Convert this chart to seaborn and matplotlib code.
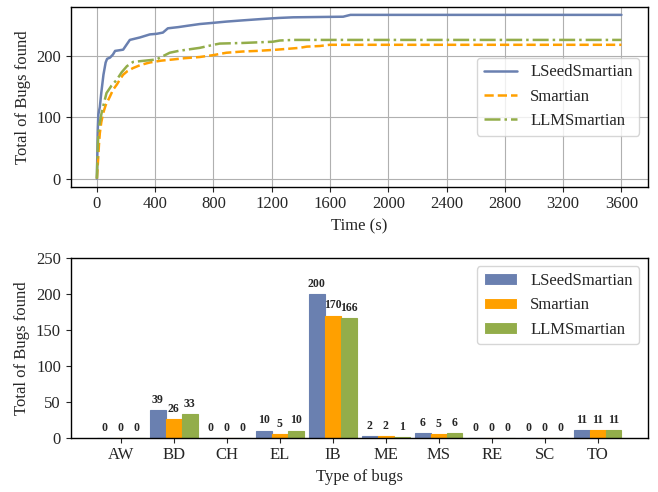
import pandas as pd
import matplotlib
matplotlib.use("Agg")
import matplotlib.pyplot as plt
import seaborn as sns

# Data
tools = ["LSeedSmartian", "Smartian", "LLMSmartian"]
colors = ["#6a80b0", "#ffa000", "#93ad4a"]
styles = ["-", "--", "-."]

lseed_t = [0, 3, 6, 10, 20, 30, 45, 60, 70, 90, 110, 125, 180, 200, 226, 295, 363, 410, 453, 487,
           560, 617, 706, 800, 889, 1000, 1118, 1250, 1347, 1690, 1740, 3600]
lseed_v = [0, 40, 80, 105, 117, 140, 170, 190, 196, 198, 203, 209, 211, 218, 227, 231, 236, 237, 239, 246,
           248, 250, 253, 255, 257, 259, 261, 263, 264, 265, 268, 268]

smart_t = [0, 4, 8, 14, 20, 30, 43, 60, 89, 110, 137, 160, 180, 210, 249, 300, 363, 440, 523, 600,
           706, 797, 889, 1000, 1100, 1234, 1392, 1440, 1530, 1598, 3600]
smart_v = [0, 15, 30, 55, 74, 92, 107, 120, 134, 145, 154, 163, 170, 176, 181, 186, 190, 193, 195, 197,
           199, 202, 206, 208, 209, 211, 214, 216, 217, 219, 219]

llm_t = [0, 3, 8, 15, 32, 50, 66, 100, 137, 170, 206, 249, 330, 409, 450, 500, 560, 617, 706, 800,
         843, 1000, 1207, 1255, 1350, 3600]
llm_v = [0, 30, 63, 85, 107, 125, 140, 152, 162, 174, 184, 191, 193, 195, 200, 206, 209, 211, 214, 219,
         221, 222, 224, 226, 227, 227]

bug_types = ["AW", "BD", "CH", "EL", "IB", "ME", "MS", "RE", "SC", "TO"]
lseed_bugs = [0, 39, 0, 10, 200, 2, 6, 0, 0, 11]
smart_bugs = [0, 26, 0, 5, 170, 2, 5, 0, 0, 11]
llm_bugs = [0, 33, 0, 10, 166, 1, 6, 0, 0, 11]

sns.set_style("ticks")
plt.rcParams["font.family"] = ["Liberation Serif", "DejaVu Serif"]
plt.rcParams["font.size"] = 12

fig = plt.figure(figsize=(6.58, 4.92), dpi=100)
ax1 = fig.add_axes([0.1074, 0.6205, 0.8769, 0.3659])
ax2 = fig.add_axes([0.1074, 0.1104, 0.8769, 0.3650])

# Top: bugs over time
series = [(lseed_t, lseed_v), (smart_t, smart_v), (llm_t, llm_v)]
for (t, v), name, c, ls in zip(series, tools, colors, styles):
    sns.lineplot(x=t, y=v, ax=ax1, color=c, linestyle=ls, linewidth=1.8, label=name)
ax1.set_xticks(range(0, 3601, 400))
ax1.set_yticks([0, 100, 200])
ax1.margins(x=0.05, y=0.05)
ax1.grid(True, color="#b0b0b0", linewidth=0.8)
ax1.set_axisbelow(True)
ax1.set_xlabel("Time (s)", fontsize=12)
ax1.set_ylabel("Total of Bugs found", fontsize=12)
ax1.tick_params(labelsize=12)
ax1.legend(loc="center right", fontsize=12)

# Bottom: bugs per type
df = pd.DataFrame({
    "type": bug_types * 3,
    "count": lseed_bugs + smart_bugs + llm_bugs,
    "tool": [tools[0]] * 10 + [tools[1]] * 10 + [tools[2]] * 10,
})
sns.barplot(data=df, x="type", y="count", hue="tool", palette=colors, width=0.9,
            saturation=1, ax=ax2, linewidth=0.8, edgecolor=None)
for bars, c in zip(ax2.containers, colors):
    for p in bars:
        p.set_edgecolor(c)
    ax2.bar_label(bars, fontsize=8.5, fontweight="bold", padding=3)
ax2.set_xlim(-0.945, 9.945)
ax2.set_ylim(0, 250)
ax2.set_yticks([0, 50, 100, 150, 200, 250])
ax2.set_xlabel("Type of bugs", fontsize=12)
ax2.set_ylabel("Total of Bugs found", fontsize=12)
ax2.tick_params(labelsize=12)
ax2.legend(loc="upper right", fontsize=12, title=None)

for ax in (ax1, ax2):
    for s in ax.spines.values():
        s.set_color("black")
        s.set_linewidth(1.0)

fig.savefig("out.png", dpi=100)
